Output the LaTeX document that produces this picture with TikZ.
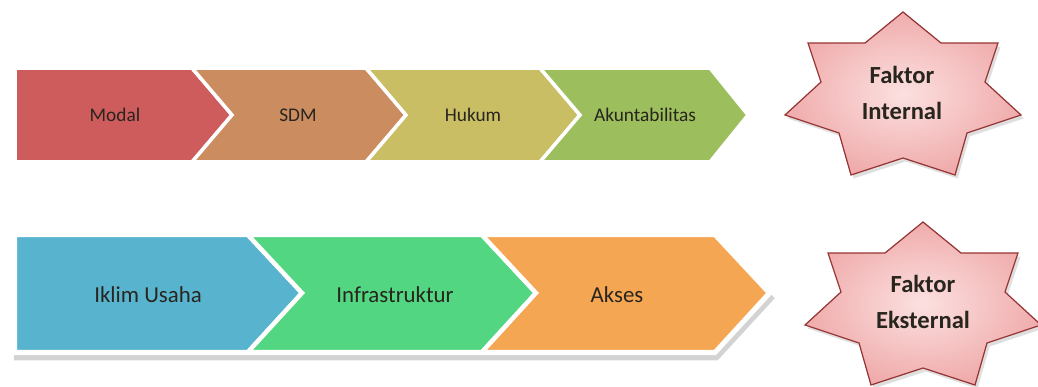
\documentclass[tikz,border=0pt]{standalone}
\usepackage{fontspec}
\setmainfont{Carlito}
\usetikzlibrary{shadows}

\definecolor{cModal}{RGB}{206,92,92}
\definecolor{cSdm}{RGB}{203,141,96}
\definecolor{cHukum}{RGB}{202,190,100}
\definecolor{cAkun}{RGB}{156,190,92}
\definecolor{cIklim}{RGB}{88,180,206}
\definecolor{cInfra}{RGB}{82,214,130}
\definecolor{cAkses}{RGB}{245,166,82}
\definecolor{cStarIn}{RGB}{252,224,224}
\definecolor{cStarOut}{RGB}{240,172,172}
\definecolor{cStarLine}{RGB}{150,52,52}
\definecolor{cText}{RGB}{40,36,30}

\tikzset{
	chevtop/.style={draw=white, line width=2pt, line join=miter},
	chevbot/.style={draw=white, line width=2.5pt, line join=miter},
	toplabel/.style={text=cText, font=\fontsize{11}{13}\selectfont},
	botlabel/.style={text=cText, font=\fontsize{13}{15}\selectfont},
	starshape/.style={draw=cStarLine, line width=0.7pt, inner color=cStarIn, outer color=cStarOut,
		drop shadow={shadow xshift=1.5pt, shadow yshift=-2pt, opacity=0.25}},
	starlabel/.style={text=cText, align=center, font=\fontsize{14}{20}\selectfont\bfseries}
}

\begin{document}
\begin{tikzpicture}[x=0.02cm, y=-0.02cm]
	\useasboundingbox (0,0) rectangle (1038,386);
	
	%top row
	\fill[cModal, chevtop] (15,68) -- (192,68) -- (232,115) -- (192,162) -- (15,162) -- cycle;
	\fill[cSdm, chevtop] (192,68) -- (366,68) -- (406,115) -- (366,162) -- (192,162) -- (232,115) -- cycle;
	\fill[cHukum, chevtop] (366,68) -- (540,68) -- (580,115) -- (540,162) -- (366,162) -- (406,115) -- cycle;
	\fill[cAkun, chevtop] (540,68) -- (710,68) -- (748,115) -- (710,162) -- (540,162) -- (580,115) -- cycle;
	\node[toplabel] (modal) at (115,115){Modal};
	\node[toplabel] (sdm) at (298,115){SDM};
	\node[toplabel] (hukum) at (473,115){Hukum};
	\node[toplabel] (akun) at (645,115){Akuntabilitas};
	
	%bottom row
	\path[fill=white, drop shadow={shadow xshift=1pt, shadow yshift=-3pt, opacity=0.35}]
		(12,232) -- (716,232) -- (773,293) -- (716,355) -- (12,355) -- cycle;
	\fill[cIklim, chevbot] (15,235) -- (248,235) -- (302,293) -- (248,352) -- (15,352) -- cycle;
	\fill[cInfra, chevbot] (248,235) -- (482,235) -- (536,293) -- (482,352) -- (248,352) -- (302,293) -- cycle;
	\fill[cAkses, chevbot] (482,235) -- (715,235) -- (769,293) -- (715,352) -- (482,352) -- (536,293) -- cycle;
	\node[botlabel] (iklim) at (148,295){Iklim Usaha};
	\node[botlabel] (infra) at (395,295){Infrastruktur};
	\node[botlabel] (akses) at (617,295){Akses};
	
	%stars
	\path[starshape, shift={(903,100)}] (0,-88) -- (38,-57) -- (95,-57) -- (82,-18) -- (118,15) -- (64,33) -- (52,75) -- (0,58)
		-- (-52,75) -- (-64,33) -- (-118,15) -- (-82,-18) -- (-95,-57) -- (-38,-57) -- cycle;
	\node[starlabel] (internal) at (902,93){Faktor\\Internal};
	
	\path[starshape, shift={(923,310)}] (0,-88) -- (38,-57) -- (95,-57) -- (82,-18) -- (118,15) -- (64,33) -- (52,75) -- (0,58)
		-- (-52,75) -- (-64,33) -- (-118,15) -- (-82,-18) -- (-95,-57) -- (-38,-57) -- cycle;
	\node[starlabel] (eksternal) at (923,302){Faktor\\Eksternal};
	
\end{tikzpicture}
\end{document}
